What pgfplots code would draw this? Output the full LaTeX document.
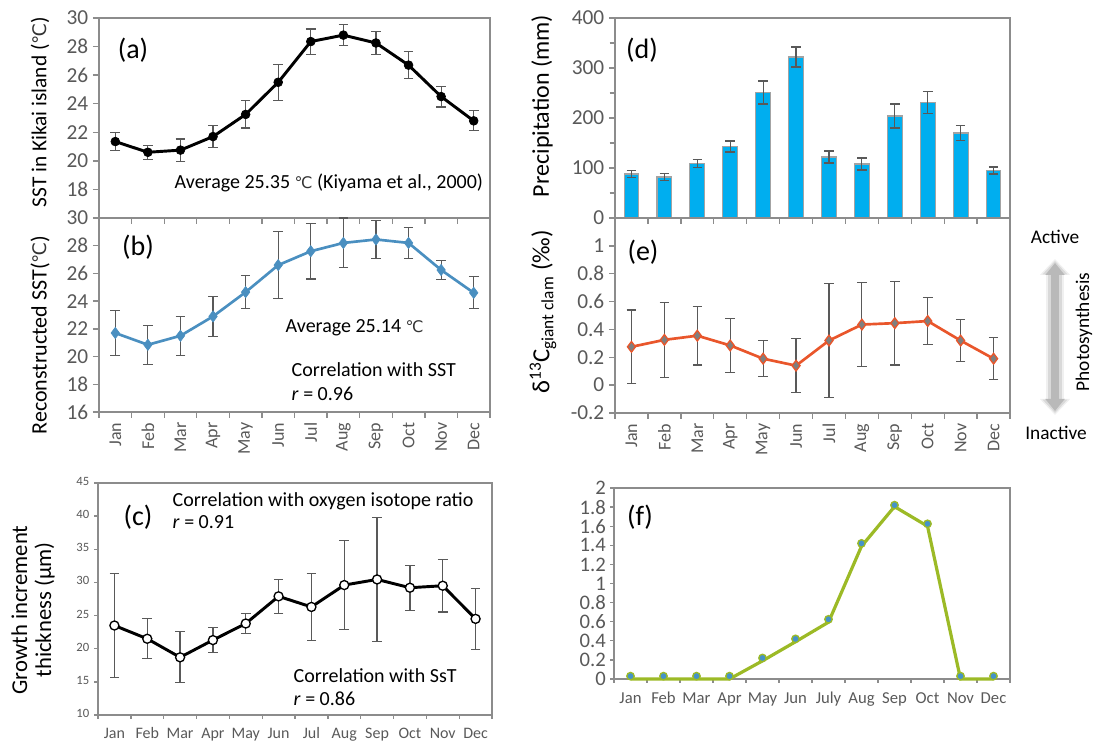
\documentclass[border=0pt]{standalone}
\usepackage{pgfplots}
\pgfplotsset{compat=1.18}
\usepackage{pgfplotstable}
\usepackage{fontspec}
\setmainfont{Carlito}
\newfontfamily\djv{DejaVu Sans}
\usetikzlibrary{arrows.meta}
\definecolor{axgray}{HTML}{8C8C8C}
\definecolor{tkgray}{HTML}{595959}
\definecolor{bblue}{HTML}{4A8FC0}
\definecolor{dcyan}{HTML}{00AEEF}
\definecolor{eorange}{HTML}{E9562B}
\definecolor{emark}{HTML}{7F7F7F}
\definecolor{fgreen}{HTML}{9CBA26}
\definecolor{fblue}{HTML}{4593C8}
\newcommand{\fs}[1]{\fontsize{#1}{#1}\selectfont}
\newcommand{\degC}[1]{{\djv\fontsize{#1}{#1}\selectfont\color{black!80}℃}}

\pgfplotstableread{
x y e
0 21.35 0.65
1 20.6 0.5
2 20.75 0.78
3 21.7 0.75
4 23.25 0.95
5 25.5 1.25
6 28.35 0.88
7 28.8 0.72
8 28.25 0.78
9 26.7 0.95
10 24.5 0.73
11 22.8 0.7
}\tabA
\pgfplotstableread{
x y e
0 21.7 1.62
1 20.85 1.4
2 21.5 1.4
3 22.9 1.45
4 24.65 1.2
5 26.6 2.4
6 27.6 2.0
7 28.2 1.8
8 28.45 1.35
9 28.2 1.1
10 26.25 0.7
11 24.6 1.15
}\tabB
\pgfplotstableread{
x y e
0 23.5 7.9
1 21.5 3.0
2 18.7 3.85
3 21.3 1.9
4 23.8 1.5
5 27.9 2.55
6 26.3 5.05
7 29.6 6.7
8 30.45 9.4
9 29.2 3.4
10 29.5 3.95
11 24.5 4.6
}\tabC
\pgfplotstableread{
x y e
0 88 7
1 82 7
2 109 8
3 143 11
4 251 23
5 322 20
6 122 12
7 108 12
8 204 24
9 231 22
10 170 15
11 95 7
}\tabD
\pgfplotstableread{
x y e
0 0.275 0.265
1 0.325 0.27
2 0.355 0.21
3 0.285 0.195
4 0.19 0.13
5 0.14 0.195
6 0.32 0.41
7 0.435 0.3
8 0.445 0.3
9 0.46 0.17
10 0.32 0.15
11 0.19 0.15
}\tabE
\pgfplotstableread{
x line mk
0 0 0.03
1 0 0.03
2 0 0.03
3 0 0.03
4 0.19 0.22
5 0.39 0.42
6 0.595 0.625
7 1.39 1.42
8 1.805 1.82
9 1.6 1.625
10 0 0.03
11 0 0.03
}\tabF

\pgfplotsset{
 mon/.style={
  scale only axis, anchor=north west,
  xmin=-0.5, xmax=11.5,
  xtick={-0.5,0.5,...,11.5},
  x tick label as interval,
  xticklabels={Jan,Feb,Mar,Apr,May,Jun,Jul,Aug,Sep,Oct,Nov,Dec},
  axis line style={axgray, line width=1pt},
  every tick/.style={axgray, line width=1pt},
  tick align=outside, major tick length=4.5pt, minor tick length=4pt,
  xtick pos=left, ytick pos=left,
  /pgf/number format/assume math mode=true,
  tick label style={text=tkgray, font=\fs{16}},
  clip=false,
 },
 nolab/.style={xticklabels={,,,,,,,,,,,,}},
 ebar/.style={error bars/.cd, y dir=both, y explicit,
  error bar style={tkgray, line width=0.9pt},
  error mark options={rotate=90, tkgray, mark size=3.6pt, line width=0.9pt}},
}

\begin{document}
\begin{tikzpicture}
\useasboundingbox (0,0) rectangle (821.25pt,558.75pt);

% (a)
\begin{axis}[mon, nolab, at={(74.25pt,545.25pt)}, width=293.25pt, height=150pt,
  ymin=16, ymax=30, ytick={18,20,...,30}]
\addplot[black, line width=2.2pt, mark=*, mark size=3.3pt, mark options={line width=0.5pt}, ebar]
  table[x=x, y=y, y error=e] {\tabA};
\end{axis}

% (b)
\begin{axis}[mon, at={(74.25pt,395.25pt)}, width=293.25pt, height=145.5pt,
  ymin=16, ymax=30, ytick={16,18,...,30},
  xticklabel style={rotate=90, anchor=east, font=\fs{13.5}}]
\addplot[bblue, line width=2pt, mark=diamond*, mark size=4.2pt, mark options={line width=0.5pt}, ebar]
  table[x=x, y=y, y error=e] {\tabB};
\end{axis}

% (c)
\begin{axis}[mon, at={(73.5pt,196.5pt)}, width=295.5pt, height=174pt,
  ymin=10, ymax=45, ytick={10,15,...,45}, major tick length=3pt,
  typeset ticklabels with strut,
  yticklabel style={font=\fs{9.5}},
  xticklabel style={font=\fs{12}, yshift=-3pt}]
\addplot[black, line width=2.2pt, mark=*, mark size=3.4pt, mark options={fill=white, line width=1pt}, ebar]
  table[x=x, y=y, y error=e] {\tabC};
\end{axis}

% (d)
\begin{axis}[mon, nolab, at={(461.25pt,545.25pt)}, width=296.25pt, height=150pt,
  ymin=0, ymax=400, ytick={0,100,...,400}, minor ytick={50,150,250,350}]
\addplot[ybar, bar width=0.45, fill=dcyan, draw=axgray!80, line width=0.8pt, ebar]
  table[x=x, y=y, y error=e] {\tabD};
\end{axis}

% (e)
\begin{axis}[mon, at={(461.25pt,395.25pt)}, width=296.25pt, height=146.25pt,
  ymin=-0.2, ymax=1.2, ytick={-0.2,0,0.2,0.4,0.6,0.8,1},
  xticklabel style={rotate=90, anchor=east, font=\fs{13.5}}]
\addplot[eorange, line width=2pt, mark=diamond*, mark size=4pt, mark options={fill=emark, draw=eorange, line width=1pt}, ebar]
  table[x=x, y=y, y error=e] {\tabE};
\end{axis}

% (f)
\begin{axis}[mon, at={(460.5pt,192.75pt)}, width=297pt, height=143.25pt,
  ymin=0, ymax=2, ytick={0,0.2,0.4,0.6,0.8,1,1.2,1.4,1.6,1.8,2}, major tick length=3pt,
  xticklabels={Jan,Feb,Mar,Apr,May,Jun,July,Aug,Sep,Oct,Nov,Dec},
  yticklabel style={font=\fs{15.5}, inner sep=0pt, xshift=-3pt},
  xticklabel style={font=\fs{12.5}, text height=8.5pt, text depth=2pt, yshift=-3pt}]
\addplot[fgreen, line width=2.4pt, no marks] table[x=x, y=line] {\tabF};
\addplot[only marks, mark=*, mark size=2.8pt, mark options={fill=fblue, draw=fgreen, line width=1pt}] table[x=x, y=mk] {\tabF};
\end{axis}

\begin{scope}[yshift=558.75pt, x=0.75pt, y=-0.75pt]
% panel letters
\node[font=\fs{21}] at (133,50) {(a)};
\node[font=\fs{21}] at (138,247) {(b)};
\node[font=\fs{21}] at (138,517) {(c)};
\node[font=\fs{21}] at (642,50) {(d)};
\node[font=\fs{21}] at (643,252) {(e)};
\node[font=\fs{21}] at (640,517) {(f)};
% y labels
\node[rotate=90, font=\fs{16}] at (40,112) {SST in Kikai island (\degC{14})};
\node[rotate=90, font=\fs{16.5}] at (40,335) {Reconstructed SST(\degC{14})};
\node[rotate=90, font=\fs{17}, align=center] at (33,610) {Growth increment\\[1pt]thickness (µm)};
\node[rotate=90, font=\fs{18}] at (542,106) {Precipitation (mm)};
\node[rotate=90, font=\fs{18.5}] at (543,312) {δ\textsuperscript{13}C\textsubscript{giant clam} (‰)};
% annotations
\node[anchor=west, font=\fs{15}] at (170,183) {Average 25.35 \degC{12} (Kiyama et al., 2000)};
\node[anchor=west, font=\fs{15}] at (281,328) {Average 25.14 \degC{12}};
\node[anchor=west, font=\fs{15}] at (287,370) {Correlation with SST};
\node[anchor=west, font=\fs{15}] at (287,394) {\textit{r} = 0.96};
\node[anchor=west, font=\fs{15}] at (168,501) {Correlation with oxygen isotope ratio};
\node[anchor=west, font=\fs{15}] at (168,522) {\textit{r} = 0.91};
\node[anchor=west, font=\fs{15}] at (289,676) {Correlation with SsT};
\node[anchor=west, font=\fs{15}] at (289,699) {\textit{r} = 0.86};
% photosynthesis arrow
\draw[line width=13, gray!12, {Triangle[length=12,width=22]}-{Triangle[length=12,width=22]}] (1055,259) -- (1055,415);
\draw[line width=10, gray!30, {Triangle[length=10,width=18]}-{Triangle[length=10,width=18]}] (1055,261) -- (1055,413);
\draw[line width=6, gray!55, {Triangle[length=9,width=14]}-{Triangle[length=9,width=14]}] (1055,263) -- (1055,411);
\node[font=\fs{14.5}] at (1055,237) {Active};
\node[font=\fs{14.5}] at (1056,433) {Inactive};
\node[rotate=90, font=\fs{14.5}, inner sep=0pt] at (1084,332) {Photosynthesis};
\end{scope}
\end{tikzpicture}
\end{document}
